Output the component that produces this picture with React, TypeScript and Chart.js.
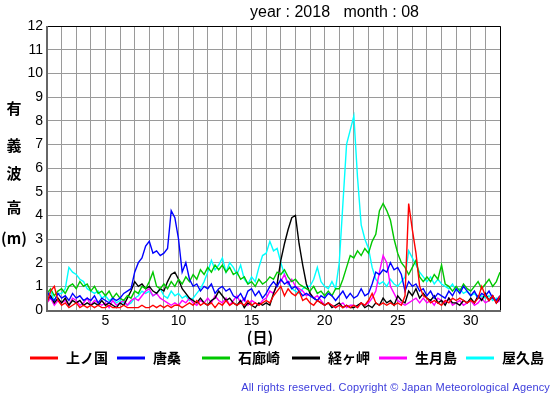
import React, { useEffect, useRef } from "react";
import { Chart, registerables } from "chart.js";

Chart.register(...registerables);

const TITLE = "year : 2018   month : 08";
const X_TITLE = "(日)";
const Y_TITLE_CHARS = ["有", "義", "波", "高", "(m)"];
const COPYRIGHT = "All rights reserved. Copyright © Japan Meteorological Agency";

const START_DAY = 1;
const STEP_DAYS = 0.25; // 6-hourly samples
const X_MIN = 1;
const X_MAX = 32;
const Y_MIN = 0;
const Y_MAX = 12;
const X_LABEL_DAYS = [5, 10, 15, 20, 25, 30];

const STATIONS = ["上ノ国", "唐桑", "石廊崎", "経ヶ岬", "生月島", "屋久島"];
const COLORS = ["#ff0000", "#0000ff", "#00c800", "#000000", "#ff00ff", "#00ffff"];

// significant wave height (m), 4 values per day from day 1.00 to day 32.00
const kaminokuni = [
  0.3, 0.8, 1.0, 0.4, 0.2, 0.3, 0.1, 0.2, 0.3, 0.1, 0.2, 0.1, 0.2, 0.1, 0.2, 0.1,
  0.1, 0.2, 0.1, 0.1, 0.1, 0.2, 0.1, 0.1, 0.1, 0.1, 0.2, 0.1, 0.1, 0.2, 0.1, 0.2,
  0.1, 0.2, 0.1, 0.2, 0.2, 0.1, 0.2, 0.3, 0.2, 0.4, 0.2, 0.3, 0.2, 0.3, 0.1, 0.3,
  0.2, 0.4, 0.2, 0.3, 0.2, 0.3, 0.2, 0.4, 0.2, 0.3, 0.2, 0.3, 0.4, 0.3, 0.6, 0.8,
  1.0, 0.6, 0.9, 0.7, 0.6, 0.8, 0.4, 0.5, 0.3, 0.2, 0.4, 0.3, 0.2, 0.3, 0.2, 0.1,
  0.2, 0.1, 0.2, 0.1, 0.2, 0.1, 0.3, 0.2, 0.4, 0.7, 0.3, 0.2, 0.3, 0.2, 0.3, 0.2,
  0.3, 0.2, 0.6, 4.5, 3.4, 2.4, 1.0, 0.6, 0.5, 0.3, 0.4, 0.3, 0.2, 0.4, 0.3, 0.5,
  0.4, 0.5, 0.4, 0.3, 0.4, 0.3, 0.5, 1.0, 0.6, 0.4, 0.6, 0.3, 0.6,
];
const karakuwa = [
  0.8, 0.5, 0.4, 0.7, 0.5, 0.6, 0.4, 0.7, 0.5, 0.6, 0.4, 0.5, 0.4, 0.6, 0.3, 0.5,
  0.4, 0.3, 0.5, 0.4, 0.5, 0.7, 0.8, 0.9, 1.6, 2.0, 2.2, 2.7, 2.9, 2.4, 2.5, 2.3,
  2.4, 2.6, 4.2, 3.9, 3.0, 1.6, 2.0, 1.3, 1.0, 1.1, 0.8, 1.0, 0.9, 1.1, 0.7, 0.9,
  1.0, 0.8, 0.9, 0.6, 0.5, 0.7, 0.4, 0.8, 0.9, 0.6, 0.8, 0.5, 0.7, 1.0, 1.2, 1.0,
  1.3, 1.1, 1.2, 0.9, 1.0, 0.8, 0.6, 0.7, 0.6, 0.5, 0.4, 0.6, 0.5, 0.7, 0.6, 0.4,
  0.6, 0.8, 0.5, 0.7, 0.5, 0.6, 0.9, 0.6, 0.7, 1.1, 1.6, 1.5, 1.7, 1.6, 2.0, 1.7,
  1.8, 1.5, 0.8, 1.2, 1.0, 1.1, 0.8, 0.9, 0.6, 0.8, 0.5, 0.7, 0.6, 0.5, 0.8, 0.6,
  0.9, 0.7, 1.0, 0.8, 0.6, 0.8, 0.5, 0.7, 0.6, 0.8, 0.5, 0.4, 0.6,
];
const irozaki = [
  0.7, 0.9, 0.6, 0.8, 0.9, 0.7, 1.0, 1.1, 0.9, 1.2, 1.0, 1.1, 0.8, 1.0, 0.7, 0.8,
  0.6, 0.8, 0.5, 0.7, 0.5, 0.4, 0.6, 0.5, 0.8, 0.7, 1.0, 0.9, 1.2, 1.6, 1.0, 0.9,
  1.1, 0.9, 1.2, 1.0, 1.3, 1.1, 1.4, 1.2, 1.5, 1.3, 1.7, 1.5, 1.8, 1.6, 1.9, 1.7,
  1.9, 1.6, 1.8, 1.5, 1.6, 1.3, 1.4, 1.1, 1.2, 1.0, 1.3, 1.1, 1.2, 1.4, 1.3, 1.6,
  1.5, 1.7, 1.4, 1.2, 1.3, 1.1, 1.0, 0.9, 0.8, 1.0, 0.7, 0.8, 0.6, 0.8, 0.6, 0.9,
  0.9, 1.3, 1.8, 2.3, 2.2, 2.5, 2.3, 2.6, 2.4, 2.9, 3.2, 4.2, 4.5, 4.2, 3.8, 3.0,
  2.4, 2.0, 1.8, 1.5, 1.8, 2.1, 1.4, 1.2, 1.4, 1.2, 1.5, 1.3, 1.9, 1.1, 1.0, 0.8,
  1.0, 0.8, 1.1, 0.9, 0.8, 1.0, 1.2, 0.9, 1.1, 1.3, 1.0, 1.2, 1.6,
];
const kyougamisaki = [
  0.4, 0.6, 0.3, 0.5, 0.3, 0.5, 0.2, 0.4, 0.3, 0.4, 0.2, 0.3, 0.2, 0.3, 0.2, 0.4,
  0.2, 0.3, 0.2, 0.1, 0.3, 0.2, 0.5, 0.8, 1.2, 1.0, 1.1, 0.9, 1.0, 0.8, 0.7, 0.9,
  0.8, 1.2, 1.5, 1.6, 1.3, 0.9, 0.7, 0.5, 0.4, 0.3, 0.5, 0.3, 0.2, 0.4, 0.5, 0.8,
  0.6, 0.4, 0.5, 0.3, 0.2, 0.4, 0.1, 0.3, 0.2, 0.1, 0.3, 0.2, 0.3, 0.2, 0.7, 1.1,
  2.1, 2.8, 3.4, 3.9, 4.0, 2.8, 1.9, 1.1, 0.7, 0.5, 0.4, 0.3, 0.2, 0.3, 0.1, 0.2,
  0.3, 0.1, 0.2, 0.1, 0.1, 0.2, 0.3, 0.1, 0.2, 0.1, 0.3, 0.2, 0.5, 0.3, 0.4, 0.2,
  0.6, 0.4, 0.3, 0.8, 0.6, 0.9, 0.5, 0.7, 0.5, 0.4, 0.6, 0.3, 0.4, 0.2, 0.5, 0.3,
  0.3, 0.2, 0.4, 0.3, 0.5, 0.3, 0.6, 0.4, 0.7, 0.4, 0.6, 0.3, 0.5,
];
const ikitsukishima = [
  0.3, 0.5, 0.2, 0.4, 0.3, 0.4, 0.2, 0.5, 0.4, 0.2, 0.3, 0.5, 0.2, 0.4, 0.3, 0.2,
  0.3, 0.1, 0.4, 0.2, 0.3, 0.4, 0.2, 0.4, 0.5, 0.4, 0.6, 0.8, 0.9, 0.6, 0.7, 0.5,
  0.4, 0.3, 0.2, 0.3, 0.2, 0.4, 0.3, 0.5, 0.3, 0.2, 0.4, 0.3, 0.5, 0.3, 0.6, 0.4,
  0.3, 0.5, 0.2, 0.4, 0.6, 0.3, 0.5, 0.2, 0.4, 0.3, 0.2, 0.4, 0.5, 0.8, 0.7, 1.1,
  1.2, 1.5, 1.1, 1.3, 1.0, 0.9, 0.8, 0.6, 0.7, 0.5, 0.6, 0.4, 0.2, 0.3, 0.2, 0.1,
  0.2, 0.3, 0.1, 0.2, 0.2, 0.1, 0.3, 0.2, 0.3, 0.5, 0.8, 1.6, 2.3, 2.0, 1.0, 0.7,
  0.4, 0.3, 0.2, 0.3, 0.4, 0.5, 0.3, 0.5, 0.3, 0.4, 0.2, 0.5, 0.4, 0.3, 0.5, 0.2,
  0.3, 0.4, 0.2, 0.3, 0.4, 0.2, 0.3, 0.5, 0.3, 0.4, 0.6, 0.3, 0.4,
];
const yakushima = [
  0.5, 0.8, 0.4, 0.7, 0.7, 0.9, 1.8, 1.6, 1.5, 1.3, 1.2, 0.9, 0.8, 0.7, 0.8, 0.5,
  0.6, 0.4, 0.5, 0.3, 0.4, 0.3, 0.2, 0.3, 0.5, 0.6, 0.8, 0.7, 0.8, 0.6, 0.7, 0.9,
  0.6, 0.5, 0.8, 0.6, 0.7, 0.5, 0.6, 0.4, 0.5, 0.7, 0.9, 1.2, 1.6, 2.1, 1.7, 1.9,
  2.2, 1.6, 2.0, 1.8, 1.5, 1.9, 1.3, 1.1, 1.4, 1.2, 1.8, 2.3, 2.4, 2.9, 2.5, 2.6,
  2.0, 1.5, 1.1, 0.9, 0.8, 0.7, 0.9, 1.0, 1.0, 1.3, 1.8, 1.2, 1.0, 0.9, 1.2, 0.9,
  2.0, 4.5, 7.0, 7.6, 8.2, 5.6, 3.6, 3.0, 2.6, 1.8, 1.3, 1.1, 1.2, 1.0, 1.3, 1.1,
  1.0, 1.2, 1.4, 2.5, 2.2, 1.9, 1.6, 1.4, 1.2, 1.4, 1.1, 1.3, 1.1, 1.0, 0.9, 1.1,
  0.8, 0.9, 0.7, 0.8, 0.6, 0.7, 0.5, 0.6, 0.5, 0.6, 0.4, 0.5, 0.4,
];

const SERIES = [kaminokuni, karakuwa, irozaki, kyougamisaki, ikitsukishima, yakushima];

// layout / style constants
const W = 555;
const H = 395;
const AREA = { left: 47, right: 500, top: 26, bottom: 310 };
const LEGEND_LINE_X = [30, 117, 202, 292, 379, 466];
const LEGEND_Y = 358;
const Y_TITLE_Y = [108, 145, 173, 207, 238];
const SANS = "'Liberation Sans', Arial, sans-serif";
const CJK = "'Noto Sans CJK JP', 'Noto Sans', sans-serif";

const decorPlugin = {
  id: "decor",
  afterDraw(chart: any) {
    const ctx = chart.ctx as CanvasRenderingContext2D;
    const a = chart.chartArea;
    ctx.save();
    // frame
    ctx.strokeStyle = "#000";
    ctx.lineWidth = 1;
    ctx.beginPath();
    ctx.moveTo(a.left, a.top + 0.5);
    ctx.lineTo(a.right + 0.5, a.top + 0.5);
    ctx.lineTo(a.right + 0.5, a.bottom);
    ctx.stroke();
    ctx.strokeStyle = "#666";
    ctx.lineWidth = 2;
    ctx.beginPath();
    ctx.moveTo(a.left, a.top);
    ctx.lineTo(a.left, a.bottom + 1);
    ctx.lineTo(a.right + 1, a.bottom + 1);
    ctx.stroke();

    // title
    ctx.fillStyle = "#000";
    ctx.font = `16px ${SANS}`;
    ctx.textBaseline = "middle";
    ctx.textAlign = "left";
    ctx.fillText(TITLE, 250, 13);

    // y title (vertical)
    ctx.font = `bold 15px ${CJK}`;
    ctx.textAlign = "center";
    Y_TITLE_CHARS.forEach((c, i) => ctx.fillText(c, 14, Y_TITLE_Y[i]));

    // x title
    ctx.font = `bold 15px ${CJK}`;
    ctx.fillText(X_TITLE, 260, 337);

    // legend
    ctx.textAlign = "left";
    chart.data.datasets.forEach((ds: any, i: number) => {
      const x = LEGEND_LINE_X[i];
      ctx.strokeStyle = ds.borderColor;
      ctx.lineWidth = 3;
      ctx.beginPath();
      ctx.moveTo(x, LEGEND_Y);
      ctx.lineTo(x + 28, LEGEND_Y);
      ctx.stroke();
      ctx.fillStyle = "#000";
      ctx.font = `bold 14px ${CJK}`;
      ctx.fillText(ds.label, x + 36, LEGEND_Y);
    });

    // copyright
    ctx.fillStyle = "#3c3cdc";
    ctx.font = `11px ${SANS}`;
    (ctx as any).letterSpacing = "0.15px";
    ctx.textAlign = "right";
    ctx.fillText(COPYRIGHT, 550, 388);
    ctx.restore();
  },
};

export default function App() {
  const ref = useRef<HTMLCanvasElement | null>(null);
  useEffect(() => {
    if (!ref.current) return;
    const datasets = STATIONS.map((name, si) => ({
      label: name,
      data: SERIES[si].map((v, i) => ({ x: START_DAY + i * STEP_DAYS, y: v })),
      borderColor: COLORS[si],
      backgroundColor: COLORS[si],
      borderWidth: 1.4,
      pointRadius: 0,
      tension: 0,
      fill: false,
    }));
    const chart = new Chart(ref.current, {
      type: "line",
      data: { datasets },
      options: {
        responsive: false,
        animation: false,
        events: [],
        layout: { padding: { left: 0, right: W - AREA.right, top: AREA.top, bottom: 0 } },
        plugins: { legend: { display: false }, tooltip: { enabled: false }, title: { display: false } },
        scales: {
          x: {
            type: "linear",
            min: X_MIN,
            max: X_MAX,
            afterFit: (s: any) => { s.height = H - AREA.bottom; },
            grid: { color: "#9a9a9a", lineWidth: 1, drawTicks: false },
            border: { display: false },
            ticks: {
              stepSize: 1,
              autoSkip: false,
              maxRotation: 0,
              padding: 3,
              color: "#000",
              font: { family: SANS, size: 14 },
              callback: (v: any) => (X_LABEL_DAYS.includes(Number(v)) ? String(v) : ""),
            },
          },
          y: {
            min: Y_MIN,
            max: Y_MAX,
            afterFit: (s: any) => { s.width = AREA.left; },
            grid: { color: "#9a9a9a", lineWidth: 1, drawTicks: false },
            border: { display: false },
            ticks: {
              stepSize: 1,
              padding: 4,
              color: "#000",
              font: { family: SANS, size: 14 },
            },
          },
        },
      },
      plugins: [decorPlugin],
    });
    return () => chart.destroy();
  }, []);
  return (
    <div style={{ position: "absolute", left: 0, top: 0, width: W, height: H, background: "#fff" }}>
      <canvas ref={ref} width={W} height={H} style={{ display: "block" }} />
    </div>
  );
}
